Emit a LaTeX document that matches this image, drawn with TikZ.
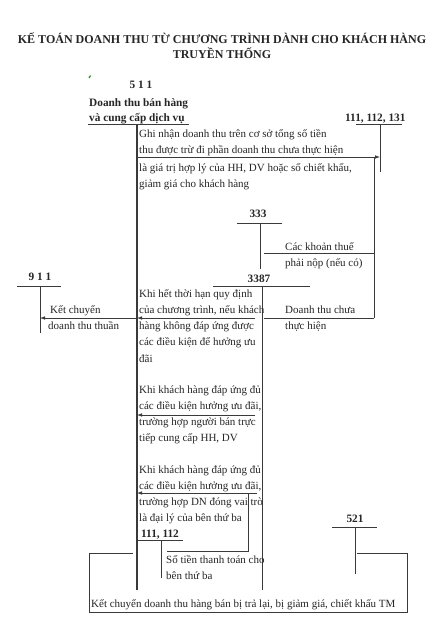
\documentclass[tikz,border=0pt]{standalone}
\usepackage{fontspec}
\setmainfont{Liberation Serif}
\usetikzlibrary{arrows.meta}
\definecolor{ink}{HTML}{262626}
\definecolor{linec}{HTML}{3A3A3A}
\definecolor{tick}{HTML}{2E8B2E}
\begin{document}
\begin{tikzpicture}[x=1pt,y=-1pt,
  txt/.style={font=\fontsize{11}{12}\selectfont, inner sep=0, anchor=base west, text=ink},
  btxt/.style={font=\bfseries\fontsize{11.3}{12}\selectfont, inner sep=0, anchor=base west, text=ink},
  lbl/.style={font=\bfseries\fontsize{11.3}{12}\selectfont, inner sep=0, anchor=base, text=ink},
  ttl/.style={font=\bfseries\fontsize{12}{13}\selectfont, inner sep=0, anchor=base, text=ink},
  ln/.style={draw=linec, line width=0.8pt},
  thick511/.style={draw=linec, line width=1.6pt},
  arr/.style={ln, -{Latex[length=5pt,width=3.6pt]}}]
\useasboundingbox[fill=white] (0,0) rectangle (442,621);

% title
\node[ttl] (title1) at (222,43) {KẾ TOÁN DOANH THU TỪ CHƯƠNG TRÌNH DÀNH CHO KHÁCH HÀNG};
\node[ttl] (title2) at (222,58) {TRUYỀN THỐNG};

% green mark
\draw[tick, line width=1.2pt] (89,78) -- (90.5,75.5);

% 511
\node[lbl] (l511) at (141,88) {5 1 1};
\node[btxt] (n511a) at (89,106) {Doanh thu bán hàng};
\node[btxt] (n511b) at (89,121) {và cung cấp dịch vụ};
\coordinate (a511L) at (88,124); \coordinate (a511R) at (189,124);
\coordinate (a511T) at (137,124); \coordinate (a511B) at (137,590);
\draw[ln] (a511L) -- (a511R);
\draw[thick511] (a511T) -- (a511B);

% 111,112,131
\node[btxt] (l111) at (345,121) {111, 112, 131};
\coordinate (b111L) at (356,124); \coordinate (b111R) at (402,124);
\coordinate (b111T) at (380,124); \coordinate (b111B) at (380,172);
\draw[ln] (b111L) -- (b111R);
\draw[ln] (b111T) -- (b111B);

\node[txt] (g1) at (139,137) {Ghi nhận doanh thu trên cơ sở tổng số tiền};
\node[txt] (g2) at (139,153) {thu được trừ đi phần doanh thu chưa thực hiện};
\node[txt] (g3) at (139,171) {là giá trị hợp lý của HH, DV hoặc số chiết khấu,};
\node[txt] (g4) at (139,187) {giảm giá cho khách hàng};
\coordinate (p157a) at (137,157); \coordinate (p157b) at (380,157);
\draw[arr] (p157a) -- (p157b);

\coordinate (c374T) at (374,157); \coordinate (c374B) at (374,318);
\draw[ln] (c374T) -- (c374B);

% 333
\node[lbl] (l333) at (258,217) {333};
\coordinate (t333L) at (237,223); \coordinate (t333R) at (282,223);
\coordinate (t333T) at (260,223); \coordinate (t333B) at (260,269);
\draw[ln] (t333L) -- (t333R);
\draw[ln] (t333T) -- (t333B);
\coordinate (h253a) at (264,253); \coordinate (h253b) at (374,253);
\draw[ln] (h253a) -- (h253b);
\node[txt] (k1) at (285,250) {Các khoản thuế};
\node[txt] (k2) at (285,266) {phải nộp (nếu có)};

% 3387
\node[lbl] (l3387) at (259,282) {3387};
\coordinate (t3387L) at (213,286); \coordinate (t3387R) at (310,286);
\coordinate (t3387T) at (262,286); \coordinate (t3387B) at (262,590);
\draw[ln] (t3387L) -- (t3387R);
\draw[ln] (t3387T) -- (t3387B);
\coordinate (h318a) at (264,318); \coordinate (h318b) at (374,318);
\draw[ln] (h318a) -- (h318b);
\node[txt] (d1) at (285,313) {Doanh thu chưa};
\node[txt] (d2) at (285,329) {thực hiện};

% 911
\node[lbl] (l911) at (40,280) {9 1 1};
\coordinate (t911L) at (17,286); \coordinate (t911R) at (61,286);
\coordinate (t911T) at (40,286); \coordinate (t911B) at (40,333);
\draw[ln] (t911L) -- (t911R);
\draw[ln] (t911T) -- (t911B);
\coordinate (e1a) at (137,318); \coordinate (e1b) at (40,318);
\draw[arr] (e1a) -- (e1b);
\node[txt] (kc1) at (50,313) {Kết chuyển};
\node[txt] (kc2) at (48,329) {doanh thu thuần};

% block 1
\node[txt] (h1) at (139,297) {Khi hết thời hạn quy định};
\node[txt] (h2) at (139,313) {của chương trình, nếu khách};
\node[txt] (h3) at (139,329) {hàng không đáp ứng được};
\node[txt] (h4) at (139,345) {các điều kiện để hưởng ưu};
\node[txt] (h5) at (139,362) {đãi};
\coordinate (r1a) at (255,318); \coordinate (r1b) at (137,318);
\draw[arr] (r1a) -- (r1b);

% block 2
\node[txt] (m1) at (139,393) {Khi khách hàng đáp ứng đủ};
\node[txt] (m2) at (139,409) {các điều kiện hưởng ưu đãi,};
\node[txt] (m3) at (139,425) {trường hợp người bán trực};
\node[txt] (m4) at (139,441) {tiếp cung cấp HH, DV};
\coordinate (r2a) at (255,415); \coordinate (r2b) at (137,415);
\draw[arr] (r2a) -- (r2b);

% block 3
\node[txt] (q1) at (139,473) {Khi khách hàng đáp ứng đủ};
\node[txt] (q2) at (139,489) {các điều kiện hưởng ưu đãi,};
\node[txt] (q3) at (139,505) {trường hợp DN đóng vai trò};
\node[txt] (q4) at (139,521) {là đại lý của bên thứ ba};
\coordinate (r3a) at (257,493); \coordinate (r3b) at (137,493);
\draw[arr] (r3a) -- (r3b);
\coordinate (v248T) at (248,493); \coordinate (v248B) at (248,551);
\coordinate (h551) at (167,551);
\draw[ln] (v248T) -- (v248B) -- (h551);

% 111,112
\node[btxt] (l1112) at (141,537) {111, 112};
\coordinate (t112L) at (138,540); \coordinate (t112R) at (183,540);
\coordinate (t112T) at (161,540); \coordinate (t112B) at (161,578);
\draw[ln] (t112L) -- (t112R);
\draw[ln] (t112T) -- (t112B);
\node[txt] (s1) at (166,563) {Số tiền thanh toán cho};
\node[txt] (s2) at (166,579) {bên thứ ba};

% 521
\node[lbl] (l521) at (355,522) {521};
\coordinate (t521L) at (332,527); \coordinate (t521R) at (377,527);
\coordinate (t521T) at (355,527); \coordinate (t521B) at (355,574);
\draw[ln] (t521L) -- (t521R);
\draw[ln] (t521T) -- (t521B);

% bottom loop
\coordinate (lp1) at (357,553); \coordinate (lp2) at (407,553);
\coordinate (lp3) at (407,612); \coordinate (lp4) at (89,612);
\coordinate (lp5) at (89,553); \coordinate (lp6) at (133,553);
\draw[ln] (lp1) -- (lp2) -- (lp3) -- (lp4) -- (lp5) -- (lp6);
\node[txt] (bt) at (91,607) {Kết chuyển doanh thu hàng bán bị trả lại, bị giảm giá, chiết khấu TM};
\end{tikzpicture}
\end{document}
